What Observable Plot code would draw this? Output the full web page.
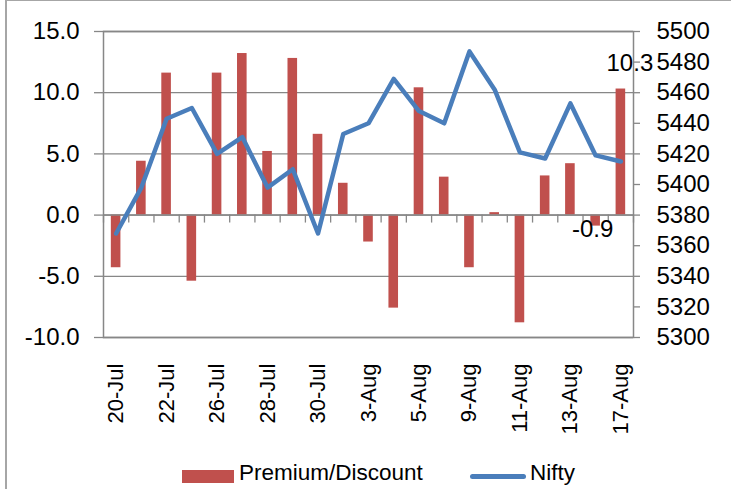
<!DOCTYPE html>
<html><head><meta charset="utf-8">
<script src="https://cdn.jsdelivr.net/npm/d3@7"></script>
<script src="https://cdn.jsdelivr.net/npm/@observablehq/plot@0.6"></script>
<style>
body{margin:0;background:#fff;}
#wrap{position:relative;width:731px;height:489px;overflow:hidden;font-family:"Liberation Sans",Arial,sans-serif;}
#plots{position:relative;width:731px;height:455px;}
#plots svg{position:absolute;left:0;top:0;}
#frame{position:absolute;left:5px;top:0;width:800px;height:600px;border-left:2px solid #a6a6a6;border-top:1px solid #a6a6a6;pointer-events:none;}
#legend{position:relative;width:731px;height:34px;font-size:22.5px;color:#000;}
#legend .sw{position:absolute;}
#legend .lab{position:absolute;top:5px;line-height:26px;}
</style></head><body>
<div id="wrap"><div id="plots"></div><div id="legend"></div><div id="frame"></div></div>
<script>
const categories = ["20-Jul","21-Jul","22-Jul","23-Jul","26-Jul","27-Jul","28-Jul","29-Jul","30-Jul","2-Aug","3-Aug","4-Aug","5-Aug","6-Aug","9-Aug","10-Aug","11-Aug","12-Aug","13-Aug","16-Aug","17-Aug"];
const premiumDiscount = [-4.3, 4.4, 11.6, -5.4, 11.6, 13.2, 5.2, 12.8, 6.6, 2.6, -2.2, -7.6, 10.4, 3.1, -4.3, 0.2, -8.8, 3.2, 4.2, -0.9, 10.3];
const nifty = [5368, 5398, 5443, 5450, 5420, 5431, 5398, 5410, 5368, 5433, 5440, 5469, 5448, 5440, 5487, 5462, 5421, 5417, 5453, 5419, 5415];
const leftTicks = [-10, -5, 0, 5, 10, 15];
const rightTicks = [5300, 5320, 5340, 5360, 5380, 5400, 5420, 5440, 5460, 5480, 5500];
const shownCategoryLabels = ["20-Jul","22-Jul","26-Jul","28-Jul","30-Jul","3-Aug","5-Aug","9-Aug","11-Aug","13-Aug","17-Aug"];
const labelledDays = ["16-Aug","17-Aug"];
const seriesNames = ["Premium/Discount","Nifty"];

const RED = "#C0504D", BLUE = "#4A7EBB", GRID = "#878787";
const FONT = "'Liberation Sans', Arial, sans-serif";
const W = 731, H = 455;
const margins = {marginLeft: 103, marginRight: 98, marginTop: 31, marginBottom: 118};

const rows = categories.map((c, i) => ({i, cat: c, pd: premiumDiscount[i], nifty: nifty[i]}));
const boundaries = d3.range(-0.5, categories.length, 1);
const labelIdx = shownCategoryLabels.map(c => categories.indexOf(c));
const xDomain = [-0.5, categories.length - 0.5];
const labelRows = rows.filter(r => labelledDays.includes(r.cat));
const posLabels = labelRows.filter(r => r.pd >= 0);
const negLabels = labelRows.filter(r => r.pd < 0);

const left = Plot.plot({
  width: W, height: H, ...margins,
  style: {fontFamily: FONT, fontSize: "24px", color: "#000", background: "transparent"},
  x: {type: "linear", domain: xDomain},
  y: {domain: [-10, 15]},
  marks: [
    Plot.ruleY(leftTicks, {stroke: GRID, strokeWidth: 1.3}),
    Plot.frame({stroke: GRID, strokeWidth: 1.5}),
    Plot.rectY(rows, {x1: d => d.i - 0.19, x2: d => d.i + 0.19, y1: 0, y2: "pd", fill: RED}),
    Plot.ruleY([0], {stroke: GRID, strokeWidth: 1.5}),
    Plot.ruleX(boundaries, {x: d => d, y1: 0, y2: -0.65, stroke: GRID, strokeWidth: 1.3}),
    Plot.axisY({ticks: leftTicks, tickFormat: d => d.toFixed(1), tickSize: 9, tickPadding: 15, stroke: GRID, strokeWidth: 1.3, fontSize: 24, fill: "#000", label: null}),
    Plot.axisX({ticks: labelIdx, tickFormat: i => categories[i], tickRotate: -90, tickSize: 0, tickPadding: 26, fontSize: 22, fill: "#000", label: null}),
    Plot.text(posLabels, {x: "i", y: "pd", text: d => d.pd.toFixed(1), fontSize: 24, fill: "#000", dx: 9, dy: -26}),
    Plot.text(negLabels, {x: "i", y: "pd", text: d => d.pd.toFixed(1), fontSize: 24, fill: "#000", dx: -3, dy: 3})
  ]
});

const right = Plot.plot({
  width: W, height: H, ...margins,
  style: {fontFamily: FONT, fontSize: "24px", color: "#000", background: "transparent"},
  x: {type: "linear", domain: xDomain, axis: null},
  y: {domain: [5300, 5500]},
  marks: [
    Plot.axisY({anchor: "right", ticks: rightTicks, tickSize: 6, tickPadding: 17, tickFormat: d => String(d), stroke: GRID, strokeWidth: 1.3, fontSize: 24, fill: "#000", label: null}),
    Plot.line(rows, {x: "i", y: "nifty", stroke: BLUE, strokeWidth: 4.5, strokeLinejoin: "round", strokeLinecap: "round"})
  ]
});

document.getElementById("plots").append(left, right);

const legend = document.getElementById("legend");
legend.innerHTML =
  `<div class="sw" style="left:182px;top:15px;width:52px;height:13px;background:${RED}"></div>` +
  `<div class="lab" style="left:239px">${seriesNames[0]}</div>` +
  `<div class="sw" style="left:470px;top:19px;width:56px;height:5px;border-radius:3px;background:${BLUE}"></div>` +
  `<div class="lab" style="left:530px">${seriesNames[1]}</div>`;
</script>
</body></html>
